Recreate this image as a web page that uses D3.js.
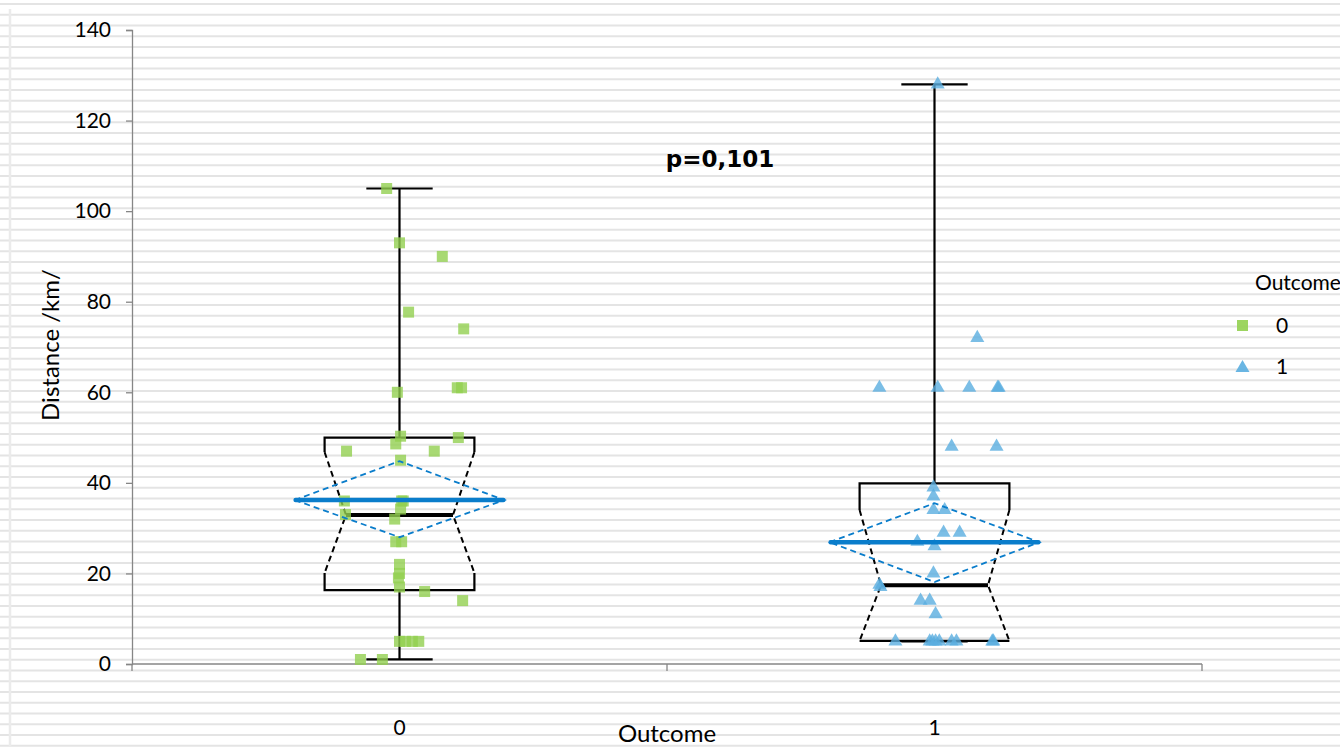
<!DOCTYPE html>
<html><head><meta charset="utf-8">
<script src="https://cdn.jsdelivr.net/npm/d3@7/dist/d3.min.js"></script>
<style>
html,body{margin:0;padding:0;background:#fff;overflow:hidden;}
svg{display:block;font-family:Lato,"Open Sans",sans-serif;}
</style></head>
<body><svg id="c" width="1340" height="747"></svg>
<script>
// ---- data ----
const categories = ["0", "1"];
const yTicks = [0, 20, 40, 60, 80, 100, 120, 140];
const whiskerMin = [1, 5];
const whiskerMax = [105, 128];
const q1 = [16.3, 5.1];
const median = [32.9, 17.4];
const q3 = [50, 39.9];
const notchLow = [20.1, 0.8];
const notchHigh = [46.8, 34.0];
const mean = [36.2, 26.9];
const meanLow = [28.0, 18.1];
const meanHigh = [44.8, 35.5];
const pValueText = "p=0,101";

const values0 = [105, 93, 90, 77.7, 74, 61, 61, 60, 50.3, 50, 48.6, 47, 47, 45, 36, 36, 36, 34.2, 33, 32, 27, 27, 22, 20, 19, 17, 16, 14, 5, 5, 5, 5, 1, 1];
const jitter0 = [-0.024, 0, 0.080, 0.017, 0.120, 0.108, 0.116, -0.004, 0.002, 0.110, -0.007, -0.099, 0.065, 0.002, -0.103, 0.007, 0.004, 0.002, -0.101, -0.009, -0.007, 0.004, 0, 0, -0.002, 0, 0.047, 0.118, 0, 0.011, 0.024, 0.036, -0.073, -0.032];
const values1 = [128, 72, 61, 61, 61, 61, 61, 48, 48, 39, 37, 34, 34, 29, 29, 27, 26, 20, 17.5, 17, 14, 14, 11, 5, 5, 5, 5, 5, 5, 5, 5, 5];
const jitter1 = [0.006, 0.080, -0.103, 0.006, 0.065, 0.118, 0.120, 0.032, 0.116, -0.002, -0.002, -0.002, 0.019, 0.017, 0.047, -0.032, 0, -0.002, -0.103, -0.101, -0.026, -0.009, 0.002, -0.073, -0.009, -0.004, 0.002, 0.009, 0.032, 0.041, 0.108, 0.110];

// ---- layout ----
const W = 1340, H = 747;
const svg = d3.select("#c");
const green = "#92d050", blue = "#5aaee0", meanBlue = "#0a7dcb";

// background stripes
const stripeYs = d3.range(4, H + 11, 10.75);
svg.append("rect").attr("width", W).attr("height", H).attr("fill", "#fff");
svg.append("g").selectAll("line").data(stripeYs).join("line")
  .attr("x1", 0).attr("x2", W).attr("y1", d => d).attr("y2", d => d)
  .attr("stroke", "#e4e4e4").attr("stroke-width", 2.2);
svg.append("line").attr("x1", 10).attr("x2", 10).attr("y1", 9).attr("y2", H)
  .attr("stroke", "#ebebeb").attr("stroke-width", 2.5);

const y = d3.scaleLinear().domain([0, 140]).range([664, 30]);
const x = d3.scaleBand().domain(categories).range([132, 1202]).padding(0);
const bw = x.bandwidth();
const cx = c => x(c) + bw / 2;
const jx = d3.scaleLinear().domain([-0.5, 0.5]).range([-bw / 2, bw / 2]);

// axes
const yAxis = d3.axisLeft(y).tickValues(yTicks).tickSize(6).tickPadding(6);
const gy = svg.append("g").attr("transform", "translate(132,0)").call(yAxis);
gy.select(".domain").attr("stroke", "#868686").attr("stroke-width", 1.3);
gy.selectAll(".tick line").attr("stroke", "#868686").attr("stroke-width", 1.3);
gy.selectAll(".tick text").attr("font-size", 21).attr("fill", "#000").attr("font-family", "Lato,sans-serif").attr("dx", -9);

const xAxisScale = d3.scaleLinear().domain([0, 2]).range([132, 1202]);
const gx = svg.append("g").attr("transform", "translate(0,664)");
gx.append("line").attr("x1", 132).attr("x2", 1202).attr("stroke", "#868686").attr("stroke-width", 1.6);
gx.selectAll(".tk").data([0, 1, 2]).join("line").attr("class", "tk")
  .attr("x1", d => xAxisScale(d)).attr("x2", d => xAxisScale(d)).attr("y1", 0).attr("y2", 7)
  .attr("stroke", "#868686").attr("stroke-width", 1.3);
gx.selectAll(".lb").data(categories).join("text").attr("class", "lb")
  .attr("x", d => cx(d)).attr("y", 71).attr("text-anchor", "middle")
  .attr("font-size", 21).text(d => d);

// titles
svg.append("text").attr("x", 667).attr("y", 742).attr("text-anchor", "middle").attr("font-size", 24).text("Outcome");
svg.append("text").attr("transform", "translate(59,345) rotate(-90)").attr("text-anchor", "middle").attr("font-size", 24).text("Distance /km/");
svg.append("text").attr("x", 720).attr("y", 167).attr("text-anchor", "middle").attr("font-size", 23).attr("font-weight", "bold").attr("font-family", "'DejaVu Sans',sans-serif").text(pValueText);

// boxes
const boxHalf = 0.14 * bw, notchHalf = 0.10 * bw, capHalf = 0.062 * bw, diaHalf = 0.196 * bw;
categories.forEach((c, i) => {
  const g = svg.append("g");
  const X = cx(c);
  const nLo = Math.max(notchLow[i], q1[i]);
  const nHi = Math.min(notchHigh[i], q3[i]);
  g.append("line").attr("x1", X).attr("x2", X).attr("y1", y(whiskerMax[i])).attr("y2", y(q3[i])).attr("stroke", "#000").attr("stroke-width", 2.2);
  g.append("line").attr("x1", X).attr("x2", X).attr("y1", y(q1[i])).attr("y2", y(whiskerMin[i])).attr("stroke", "#000").attr("stroke-width", 2.2);
  [whiskerMax[i], whiskerMin[i]].forEach(v => {
    g.append("line").attr("x1", X - capHalf).attr("x2", X + capHalf).attr("y1", y(v)).attr("y2", y(v)).attr("stroke", "#000").attr("stroke-width", 2.2);
  });
  const solid = d3.path();
  solid.moveTo(X - boxHalf, y(nHi)); solid.lineTo(X - boxHalf, y(q3[i])); solid.lineTo(X + boxHalf, y(q3[i])); solid.lineTo(X + boxHalf, y(nHi));
  solid.moveTo(X - boxHalf, y(nLo)); solid.lineTo(X - boxHalf, y(q1[i])); solid.lineTo(X + boxHalf, y(q1[i])); solid.lineTo(X + boxHalf, y(nLo));
  g.append("path").attr("d", solid.toString()).attr("fill", "none").attr("stroke", "#000").attr("stroke-width", 2.2);
  const dash = d3.path();
  dash.moveTo(X - boxHalf, y(nHi)); dash.lineTo(X - notchHalf, y(median[i])); dash.lineTo(X - boxHalf, y(nLo));
  dash.moveTo(X + boxHalf, y(nHi)); dash.lineTo(X + notchHalf, y(median[i])); dash.lineTo(X + boxHalf, y(nLo));
  g.append("path").attr("d", dash.toString()).attr("fill", "none").attr("stroke", "#000").attr("stroke-width", 2).attr("stroke-dasharray", "6,4");
  g.append("line").attr("x1", X - notchHalf).attr("x2", X + notchHalf).attr("y1", y(median[i])).attr("y2", y(median[i])).attr("stroke", "#000").attr("stroke-width", 4);
});

// points
const sq = d3.symbol().type(d3.symbolSquare).size(121);
const tri = d3.symbol().type(d3.symbolTriangle).size(85);
svg.append("g").selectAll("path").data(values0.map((v, k) => [v, jitter0[k]])).join("path")
  .attr("d", sq).attr("transform", d => `translate(${cx("0") + jx(d[1])},${y(d[0])})`)
  .attr("fill", green).attr("fill-opacity", 0.8);
svg.append("g").selectAll("path").data(values1.map((v, k) => [v, jitter1[k]])).join("path")
  .attr("d", tri).attr("transform", d => `translate(${cx("1") + jx(d[1])},${y(d[0])})`)
  .attr("fill", blue).attr("fill-opacity", 0.8);

// mean diamonds
categories.forEach((c, i) => {
  const X = cx(c);
  const p = d3.path();
  p.moveTo(X - diaHalf, y(mean[i])); p.lineTo(X, y(meanHigh[i])); p.lineTo(X + diaHalf, y(mean[i])); p.lineTo(X, y(meanLow[i])); p.closePath();
  svg.append("path").attr("d", p.toString()).attr("fill", "none").attr("stroke", meanBlue).attr("stroke-width", 1.8).attr("stroke-dasharray", "6,4");
  svg.append("line").attr("x1", X - diaHalf + 1).attr("x2", X + diaHalf - 1).attr("y1", y(mean[i])).attr("y2", y(mean[i]))
    .attr("stroke", meanBlue).attr("stroke-width", 4.5).attr("stroke-linecap", "round");
});

// legend
const lg = svg.append("g");
lg.append("text").attr("x", 1255).attr("y", 290).attr("font-size", 21).text("Outcome");
lg.append("path").attr("d", sq).attr("transform", "translate(1242.5,325.5)").attr("fill", green).attr("fill-opacity", 0.9);
lg.append("text").attr("x", 1276).attr("y", 333).attr("font-size", 21).text(categories[0]);
lg.append("path").attr("d", tri).attr("transform", "translate(1242.5,368)").attr("fill", blue).attr("fill-opacity", 0.9);
lg.append("text").attr("x", 1276).attr("y", 374).attr("font-size", 21).text(categories[1]);
</script></body></html>
